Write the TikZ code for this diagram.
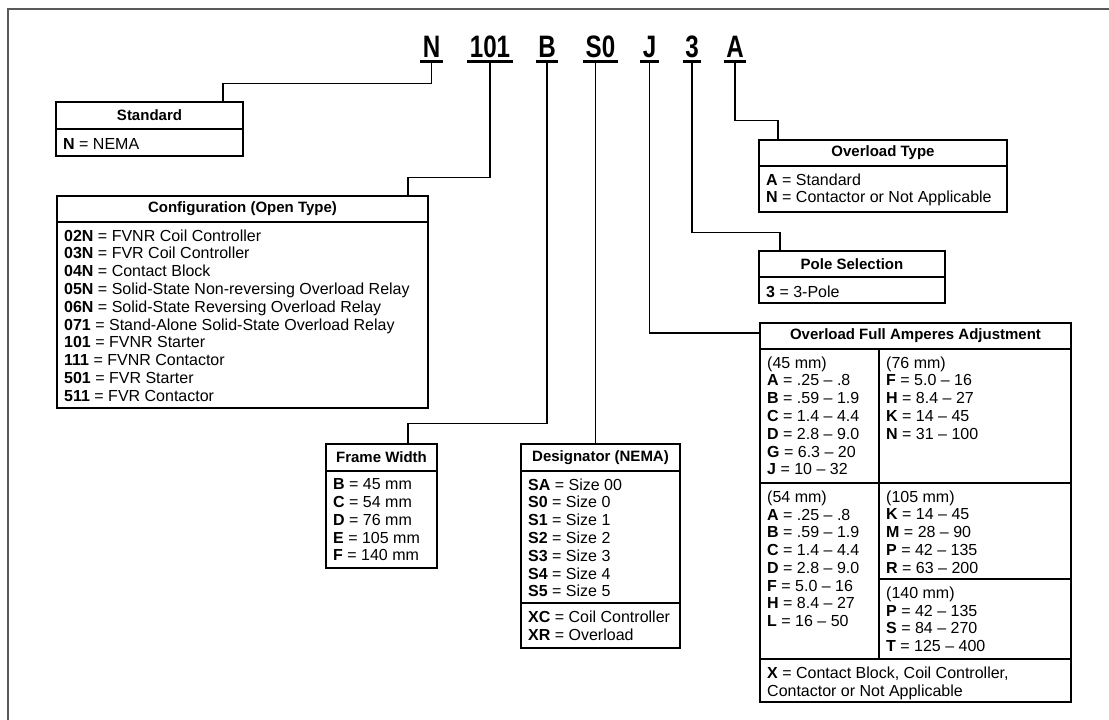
\documentclass[tikz,border=0pt]{standalone}
\usepackage{fontspec}
\setmainfont{Liberation Sans}
\usepackage{graphicx}
\usetikzlibrary{positioning}

\newcommand{\cellfont}{\fontsize{16}{17.8}\selectfont}
\newcommand{\hdfont}{\fontsize{15}{18}\selectfont\bfseries}
\newcommand{\codefont}{\fontsize{31}{31}\selectfont\bfseries}
\newcommand{\cnd}[1]{\scalebox{0.78}[1]{#1}}

\tikzset{
  codebox/.style={font=\codefont, anchor=base, inner xsep=2.5pt, inner ysep=4pt},
  uline/.style={line width=2.6pt},
  link/.style={line width=1.3pt},
  hdbox/.style={draw, line width=1.4pt, anchor=north west, inner sep=0pt, outer sep=0pt, font=\hdfont},
  cellbox/.style={draw, line width=1.4pt, anchor=north west, inner sep=0pt, outer sep=0pt},
  celltext/.style={anchor=north west, align=left, inner sep=0pt, font=\cellfont, execute at begin node=\strut},
  outerframe/.style={draw=black!65, line width=2pt}
}

\begin{document}
\begin{tikzpicture}[x=1pt, y=-1pt]
    \useasboundingbox (0,0) rectangle (1109,720);

    % outer frame
    \draw[outerframe] (8,720) -- (8,9) -- (1109,9);

    % catalog number
    \node[codebox] (cN)   at (431.5,57) {\cnd{N}};
    \node[codebox] (c101) at (490,57)   {\cnd{101}};
    \node[codebox] (cB)   at (547,57)   {\cnd{B}};
    \node[codebox] (cS0)  at (600.5,57) {\cnd{S0}};
    \node[codebox] (cJ)   at (649.5,57) {\cnd{J}};
    \node[codebox] (c3)   at (692,57)   {\cnd{3}};
    \node[codebox] (cA)   at (735,57)   {\cnd{A}};
    \foreach \c in {cN,c101,cB,cS0,cJ,c3,cA}
      \draw[uline] (\c.south west) -- (\c.south east);

    % Standard
    \node[hdbox, minimum width=187pt, minimum height=27pt] (std) at (56,102) {Standard};
    \node[cellbox, minimum width=187pt, minimum height=27pt] (stdb) at (std.south west) {};
    \node[celltext] (stdt) at ([shift={(7,7.4)}]stdb.north west) {\textbf{N} = NEMA};

    % Configuration
    \node[hdbox, minimum width=371pt, minimum height=26pt] (cfg) at (57,196) {Configuration (Open Type)};
    \node[cellbox, minimum width=371pt, minimum height=186pt] (cfgb) at (cfg.south west) {};
    \node[celltext] (cfgt) at ([shift={(7,7.4)}]cfgb.north west)
      {\textbf{02N} = FVNR Coil Controller\\
       \textbf{03N} = FVR Coil Controller\\
       \textbf{04N} = Contact Block\\
       \textbf{05N} = Solid-State Non-reversing Overload Relay\\
       \textbf{06N} = Solid-State Reversing Overload Relay\\
       \textbf{071} = Stand-Alone Solid-State Overload Relay\\
       \textbf{101} = FVNR Starter\\
       \textbf{111} = FVNR Contactor\\
       \textbf{501} = FVR Starter\\
       \textbf{511} = FVR Contactor};

    % Frame Width
    \node[hdbox, minimum width=111pt, minimum height=27pt] (fw) at (326,444) {Frame Width};
    \node[cellbox, minimum width=111pt, minimum height=97pt] (fwb) at (fw.south west) {};
    \node[celltext] (fwt) at ([shift={(7,7.4)}]fwb.north west)
      {\textbf{B} = 45 mm\\ \textbf{C} = 54 mm\\ \textbf{D} = 76 mm\\
       \textbf{E} = 105 mm\\ \textbf{F} = 140 mm};

    % Designator
    \node[hdbox, minimum width=159pt, minimum height=27pt] (dsg) at (521,444) {Designator (NEMA)};
    \node[cellbox, minimum width=159pt, minimum height=132pt] (dsgb) at (dsg.south west) {};
    \node[cellbox, minimum width=159pt, minimum height=45pt] (dsgx) at (dsgb.south west) {};
    \node[celltext] (dsgt) at ([shift={(7,7.4)}]dsgb.north west)
      {\textbf{SA} = Size 00\\ \textbf{S0} = Size 0\\ \textbf{S1} = Size 1\\
       \textbf{S2} = Size 2\\ \textbf{S3} = Size 3\\ \textbf{S4} = Size 4\\
       \textbf{S5} = Size 5};
    \node[celltext] (dsgxt) at ([shift={(7,7.4)}]dsgx.north west)
      {\textbf{XC} = Coil Controller\\ \textbf{XR} = Overload};

    % Overload Type
    \node[hdbox, minimum width=248pt, minimum height=26pt] (ovt) at (759,140) {Overload Type};
    \node[cellbox, minimum width=248pt, minimum height=46pt] (ovtb) at (ovt.south west) {};
    \node[celltext] (ovtt) at ([shift={(7,7.4)}]ovtb.north west)
      {\textbf{A} = Standard\\ \textbf{N} = Contactor or Not Applicable};

    % Pole Selection
    \node[hdbox, minimum width=186pt, minimum height=26pt] (pol) at (759,251) {Pole Selection};
    \node[cellbox, minimum width=186pt, minimum height=26pt] (polb) at (pol.south west) {};
    \node[celltext] (polt) at ([shift={(7,7.4)}]polb.north west) {\textbf{3} = 3-Pole};

    % Overload Full Amperes Adjustment
    \node[hdbox, minimum width=311pt, minimum height=26pt] (ofa) at (760,323) {Overload Full Amperes Adjustment};
    \node[cellbox, minimum width=119pt, minimum height=134pt] (c45) at (ofa.south west) {};
    \node[cellbox, minimum width=192pt, minimum height=134pt] (c76) at (c45.north east) {};
    \node[cellbox, minimum width=119pt, minimum height=176pt] (c54) at (c45.south west) {};
    \node[cellbox, minimum width=192pt, minimum height=96pt] (c105) at (c76.south west) {};
    \node[cellbox, minimum width=192pt, minimum height=80pt] (c140) at (c105.south west) {};
    \node[cellbox, minimum width=311pt, minimum height=43pt] (cx) at (c54.south west) {};
    \node[celltext] (t45) at ([shift={(7,7.4)}]c45.north west)
      {(45 mm)\\ \textbf{A} = .25 – .8\\ \textbf{B} = .59 – 1.9\\ \textbf{C} = 1.4 – 4.4\\
       \textbf{D} = 2.8 – 9.0\\ \textbf{G} = 6.3 – 20\\ \textbf{J} = 10 – 32};
    \node[celltext] (t76) at ([shift={(7,7.4)}]c76.north west)
      {(76 mm)\\ \textbf{F} = 5.0 – 16\\ \textbf{H} = 8.4 – 27\\ \textbf{K} = 14 – 45\\
       \textbf{N} = 31 – 100};
    \node[celltext] (t54) at ([shift={(7,7.4)}]c54.north west)
      {(54 mm)\\ \textbf{A} = .25 – .8\\ \textbf{B} = .59 – 1.9\\ \textbf{C} = 1.4 – 4.4\\
       \textbf{D} = 2.8 – 9.0\\ \textbf{F} = 5.0 – 16\\ \textbf{H} = 8.4 – 27\\
       \textbf{L} = 16 – 50};
    \node[celltext] (t105) at ([shift={(7,7.4)}]c105.north west)
      {(105 mm)\\ \textbf{K} = 14 – 45\\ \textbf{M} = 28 – 90\\ \textbf{P} = 42 – 135\\
       \textbf{R} = 63 – 200};
    \node[celltext] (t140) at ([shift={(7,7.4)}]c140.north west)
      {(140 mm)\\ \textbf{P} = 42 – 135\\ \textbf{S} = 84 – 270\\ \textbf{T} = 125 – 400};
    \node[celltext] (tx) at ([shift={(7,7.4)}]cx.north west)
      {\textbf{X} = Contact Block, Coil Controller,\\ Contactor or Not Applicable};

    % leader lines
    \draw[link] (cN.south) -- ++(0,22) -| ([xshift=167pt]std.north west);
    \draw[link] (c101.south) -- ++(0,116) -| ([xshift=351pt]cfg.north west);
    \draw[link] (cB.south) -- ++(0,362) -| ([xshift=82pt]fw.north west);
    \draw[link] ([xshift=-5pt]cS0.south) -- ([xshift=-5pt]cS0.south |- dsg.north);
    \draw[link] (cJ.south) |- ([yshift=-10pt]ofa.north west);
    \draw[link] (c3.south) -- ++(0,171) -| ([xshift=21pt]pol.north west);
    \draw[link] (cA.south) -- ++(0,59) -| ([xshift=19pt]ovt.north west);
\end{tikzpicture}
\end{document}
